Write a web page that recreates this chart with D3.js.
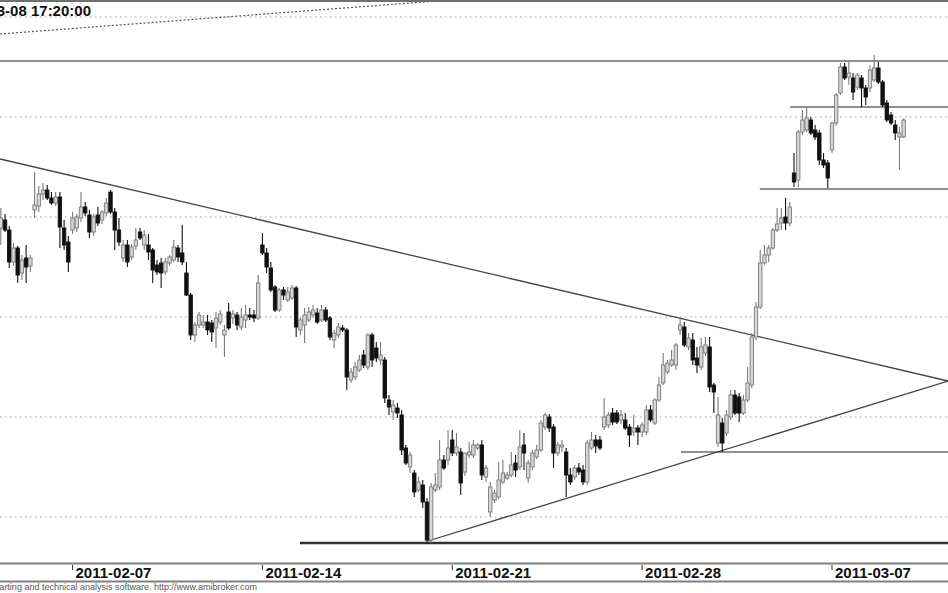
<!DOCTYPE html>
<html><head><meta charset="utf-8">
<script src="https://cdn.jsdelivr.net/npm/d3@7"></script>
<style>body{margin:0;background:#fff}svg{display:block}</style>
</head><body>
<svg id="c" width="948" height="593"></svg>
<script>
// ---- data ----
const days = ["2011-02-03","2011-02-04","2011-02-07","2011-02-08","2011-02-09","2011-02-10","2011-02-11",
  "2011-02-14","2011-02-15","2011-02-16","2011-02-17","2011-02-18","2011-02-21","2011-02-22","2011-02-23",
  "2011-02-24","2011-02-25","2011-02-28","2011-03-01","2011-03-02","2011-03-03","2011-03-04","2011-03-07","2011-03-08"];
const hours = ["09:00","10:00","11:00","12:00","13:00","14:00","15:00","16:00","17:00"];
const tickLabels = ["2011-02-07","2011-02-14","2011-02-21","2011-02-28","2011-03-07"];
const titleText = "2011-03-08 17:20:00";
const footerText = "AmiBroker - charting and technical analysis software. http://www.amibroker.com";

const open = [2823.5,2844.5,2848.5,2843.5,2827.5,2834.5,2822,2829.5,2825.5,
2853.5,2855.5,2861.5,2863.5,2859.5,2857,2860,2844.5,2837.5,
2843.5,2844.5,2849.5,2855,2851,2842.5,2851,2848.5,2852,
2862.5,2852.5,2843.5,2829.5,2836,2830,2835.5,2842.5,2836,
2836,2833.5,2826,2827,2822.5,2827,2828.5,2834.5,2832,
2822,2811,2791,2796,2796,2797.5,2797,2794.5,2797.5,
2791,2802.5,2799.5,2801,2795,2798.5,2801,2801,2799.5,
2836,2832,2824.5,2815,2803.5,2813.5,2808.5,2809.5,2814.5,
2793.5,2796,2798.5,2801,2802,2798.5,2803.5,2799.5,2788.5,
2791,2794.5,2793.5,2768.5,2770,2773.5,2781,2775,2791,
2784.5,2778.5,2778.5,2758.5,2752.5,2754.5,2751,2734.5,2725,
2722,2713.5,2716,2707.5,2688.5,2713.5,2715,2728.5,2728.5,
2738.5,2732,2732.5,2722.5,2731,2731,2734.5,2736,2720,
2702.5,2708.5,2710,2717.5,2719.5,2721,2727,2725,2736,
2719.5,2725,2730,2733.5,2745,2750,2745,2732,2735,
2732.5,2721,2720,2724.5,2723.5,2717.5,2734.5,2738.5,2738.5,
2745,2746,2752,2752,2748.5,2748.5,2745,2742.5,2744.5,
2742.5,2742.5,2753.5,2747,2758.5,2767,2772.5,2776,2776,
2793.5,2795,2785,2788.5,2779.5,2775,2782,2785,2766,
2737,2747,2742,2750,2761,2760,2752,2758.5,2766,
2790,2805,2827,2831,2834.5,2843.5,2847,2850,2847,
2872,2868.5,2892.5,2893.5,2898.5,2893.5,2892,2878.5,2877,
2883.5,2897,2912,2925,2920,2919.5,2915,2919.5,2914.5,
2914.5,2918.5,2924.5,2917.5,2907,2901,2896,2890,2890];

const high = [2852.5,2854.5,2851.5,2845.5,2837,2835.5,2831,2836,2831,
2872.5,2865.5,2867,2866,2862.5,2862.5,2862.5,2848.5,2840.5,
2852.5,2851.5,2862.5,2857.5,2853.5,2851.5,2855,2853.5,2859.5,
2863.5,2854.5,2849.5,2838.5,2838.5,2836.5,2844.5,2844.5,2843.5,
2841.5,2834.5,2828.5,2829.5,2829.5,2831,2838.5,2836,2846,
2827.5,2812,2797.5,2802.5,2801,2801,2798.5,2802.5,2803.5,
2796,2807,2803.5,2802.5,2804.5,2806,2804.5,2803.5,2821,
2842,2834.5,2827.5,2816,2814.5,2815,2815,2816,2815.5,
2799.5,2804.5,2805,2806,2804.5,2806,2805,2800.5,2793.5,
2797,2796,2794.5,2774.5,2777.5,2781,2783.5,2792,2792,
2787.5,2787.5,2780,2761,2758.5,2757,2753.5,2736,2732.5,
2723.5,2720,2718.5,2709.5,2717,2722,2738.5,2731,2743.5,
2743.5,2742,2734.5,2731,2737.5,2738.5,2737,2738.5,2726,
2717.5,2713.5,2727.5,2728.5,2722.5,2732.5,2731,2743.5,2742,
2728.5,2733.5,2736,2748.5,2752,2751.5,2746.5,2737.5,2738.5,
2734.5,2724.5,2726,2727,2726,2738.5,2742.5,2741,2740.5,
2759.5,2752.5,2754.5,2753.5,2753.5,2752,2746.5,2751,2746,
2747.5,2756,2756,2759.5,2770,2782,2778.5,2783.5,2787,
2799.5,2797.5,2792,2792,2785,2789.5,2790,2790,2767,
2760,2749.5,2753.5,2763.5,2763.5,2762,2761,2775,2792,
2807.5,2833.5,2836,2836,2844.5,2854.5,2854.5,2859.5,2857.5,
2882,2893.5,2903.5,2904.5,2900,2896,2893.5,2882,2878.5,
2897.5,2912,2927,2927,2927.5,2922,2922,2921,2916,
2926,2931,2927.5,2918.5,2908.5,2902.5,2898.5,2895,2899.5];

const low = [2817.5,2836,2842.5,2824.5,2825.5,2817,2818.5,2817,2822.5,
2849.5,2852.5,2858.5,2858.5,2856,2855.5,2834.5,2833.5,2822.5,
2841.5,2842.5,2847.5,2850.5,2839.5,2840.5,2845.5,2846.5,2850.5,
2851.5,2833.5,2835.5,2827.5,2825,2828.5,2833.5,2838.5,2833.5,
2828.5,2817,2821,2814.5,2821,2825.5,2827.5,2827.5,2826,
2810.5,2788.5,2787.5,2794.5,2794.5,2791,2787.5,2784.5,2796,
2780,2793.5,2796.5,2793.5,2793.5,2794.5,2798.5,2797.5,2798.5,
2831,2822,2812.5,2802.5,2802.5,2808.5,2807.5,2808.5,2790,
2791,2787,2797.5,2799.5,2796.5,2797.5,2797.5,2788.5,2784.5,
2789.5,2792.5,2763.5,2767,2768.5,2772.5,2774.5,2773.5,2775,
2777.5,2776,2757,2751,2748.5,2749.5,2731,2726,2722,
2710,2712.5,2704.5,2687,2687,2712.5,2713.5,2723.5,2726,
2730.5,2730.5,2711,2720.5,2729.5,2729.5,2733.5,2718.5,2717.5,
2700,2707,2709,2716.5,2718.5,2720,2720,2723.5,2723.5,
2717,2723.5,2729,2732.5,2743.5,2742.5,2724.5,2730.5,2732.5,
2710,2716,2718.5,2721,2716,2716,2733.5,2732,2733.5,
2743.5,2744.5,2746,2746.5,2746.5,2743.5,2735,2740.5,2736,
2740,2741,2747.5,2746,2757.5,2766,2771.5,2775,2773.5,
2791,2785,2783.5,2776,2772,2773.5,2780.5,2762.5,2752,
2735,2732.5,2740.5,2748.5,2751,2747.5,2751,2757.5,2764.5,
2788.5,2804,2826,2827.5,2833.5,2842.5,2843.5,2843.5,2845.5,
2865,2865,2891,2892.5,2891,2888.5,2876,2874.5,2864.5,
2882,2895.5,2911,2918.5,2916,2908.5,2913.5,2905,2906,
2912.5,2917.5,2916.5,2905,2897.5,2896,2888.5,2873.5,2889.5];

const close = [2846,2849.5,2843.5,2827.5,2834.5,2821,2828.5,2825,2829.5,
2856,2861.5,2863.5,2859.5,2857,2860,2845,2836,2827.5,
2849.5,2850,2855,2852,2842.5,2850,2847,2852.5,2857,
2852.5,2843.5,2837.5,2836,2827.5,2835,2838.5,2839.5,2841,
2832.5,2823.5,2822.5,2822,2827.5,2830,2835,2830,2827.5,
2811,2791,2796,2801,2797.5,2793.5,2792.5,2799.5,2801.5,
2793.5,2794.5,2801.5,2796,2800,2801,2800,2799.5,2817,
2832,2825,2813.5,2803.5,2813.5,2811,2812.5,2814.5,2795,
2798.5,2801,2802.5,2803.5,2797.5,2803.5,2798.5,2790,2792,
2795,2793.5,2770,2772.5,2775,2778.5,2776,2791,2778.5,
2779.5,2781,2759.5,2755,2756,2752,2733.5,2727,2731,
2712.5,2717.5,2707.5,2688.5,2715,2716,2728.5,2724.5,2734.5,
2732,2735,2717,2732,2732.5,2736,2736,2721,2724.5,
2715,2712,2718.5,2722,2721,2726,2723.5,2735,2732,
2727,2732,2733.5,2747,2751,2744.5,2732,2736,2736,
2721,2717.5,2724.5,2722.5,2717.5,2737,2738.5,2735.5,2734.5,
2750,2751,2747.5,2747.5,2751,2744.5,2741,2744.5,2742.5,
2746,2753.5,2748.5,2758.5,2766,2776,2777,2778.5,2786,
2796,2786,2789.5,2778.5,2776,2785,2786,2765,2762.5,
2751,2737,2751,2761,2752,2752,2758.5,2767,2790,
2805,2827,2831,2834.5,2843.5,2846.5,2849.5,2847,2855,
2867.5,2892.5,2898.5,2899.5,2892,2890,2878.5,2876,2869.5,
2897,2911,2925,2919.5,2922,2912.5,2921,2914.5,2910,
2923.5,2924.5,2917.5,2906,2898.5,2897,2892,2892,2898.5];

// drawn study lines (bar index / price)
const levelPrices = [2928, 2905, 2864, 2732.5, 2687];
const levelStartBar = [-2, 188.1, 180.9, 162.2, 71.9];
const trendDown = [[0.8, 2879], [225.5, 2768]];
const trendUp = [[102.25, 2688], [225.5, 2768]];
const trendDotted = [[0.8, 2941.5], [107.5, 2958.5]];
const gridLevels = [2700, 2750, 2800, 2850, 2900, 2950];

// ---- chart ----
const W = 948, H = 593;
const svg = d3.select("#c");
const n = open.length;
const x = d3.scaleLinear().domain([0, n - 1]).range([-3.4, 903.7]);
const y = d3.scaleLinear().domain([2700, 2950]).range([517, 17]);
const plotTop = 2, plotBottom = 562;
const font = "'Liberation Sans', Arial, Helvetica, sans-serif";

svg.append("defs").append("clipPath").attr("id", "clip")
  .append("rect").attr("x", 0).attr("y", plotTop).attr("width", W).attr("height", plotBottom - plotTop);

const bars = d3.range(n).map(i => ({
  i, day: days[Math.floor(i / 9)], hour: hours[i % 9],
  o: open[i], h: high[i], l: low[i], c: close[i]
}));

const plot = svg.append("g").attr("clip-path", "url(#clip)");

// grid
plot.selectAll("line.grid").data(gridLevels).join("line")
  .attr("x1", 0).attr("x2", W).attr("y1", d => y(d)).attr("y2", d => y(d))
  .attr("stroke", "#a0a0a0").attr("stroke-width", 1).attr("stroke-dasharray", "1.5,3.5");

// dotted trend at top
plot.append("line")
  .attr("x1", x(trendDotted[0][0])).attr("y1", y(trendDotted[0][1]))
  .attr("x2", x(trendDotted[1][0])).attr("y2", y(trendDotted[1][1]))
  .attr("stroke", "#555").attr("stroke-width", 1.2).attr("stroke-dasharray", "2,2");

// horizontal levels
plot.selectAll("line.lvl").data(levelPrices).join("line")
  .attr("x1", (d, k) => x(levelStartBar[k])).attr("x2", W)
  .attr("y1", d => y(d)).attr("y2", d => y(d))
  .attr("stroke", (d, k) => k === 4 ? "#333" : "#6a6a6a")
  .attr("stroke-width", (d, k) => k === 4 ? 2.6 : 1.6);

// trend lines
[trendDown, trendUp].forEach(t => {
  plot.append("line")
    .attr("x1", x(t[0][0])).attr("y1", y(t[0][1]))
    .attr("x2", x(t[1][0])).attr("y2", y(t[1][1]))
    .attr("stroke", "#444").attr("stroke-width", 1.3);
});

// candles
const up = d => d.c >= d.o;
const g = plot.append("g");
g.selectAll("line.wick").data(bars).join("line")
  .attr("x1", d => x(d.i)).attr("x2", d => x(d.i))
  .attr("y1", d => y(d.h)).attr("y2", d => y(d.l))
  .attr("stroke", d => up(d) ? "#7a7a7a" : "#111").attr("stroke-width", 1.1);
g.selectAll("rect.body").data(bars).join("rect")
  .attr("x", d => x(d.i) - 1.7).attr("width", 3.4)
  .attr("y", d => Math.min(y(d.o), y(d.c)))
  .attr("height", d => Math.max(1, Math.abs(y(d.o) - y(d.c))))
  .attr("fill", d => up(d) ? "#d6d6d6" : "#111")
  .attr("stroke", d => up(d) ? "#7a7a7a" : "#111").attr("stroke-width", 0.9);

// frame
svg.append("line").attr("x1", 0).attr("x2", W).attr("y1", 1).attr("y2", 1)
  .attr("stroke", "#707070").attr("stroke-width", 2);
svg.append("line").attr("x1", 0).attr("x2", W).attr("y1", 563.5).attr("y2", 563.5)
  .attr("stroke", "#808080").attr("stroke-width", 2);
svg.append("line").attr("x1", 0).attr("x2", W).attr("y1", 581.5).attr("y2", 581.5)
  .attr("stroke", "#808080").attr("stroke-width", 2);

// title
svg.append("text").attr("x", 91).attr("y", 16).attr("text-anchor", "end")
  .attr("font-family", font).attr("font-weight", "bold").attr("font-size", 15)
  .attr("fill", "#111").text(titleText);

// x axis ticks
const ticks = tickLabels.map(l => ({ label: l, i: days.indexOf(l) * 9 }));
const tg = svg.append("g");
tg.selectAll("line").data(ticks).join("line")
  .attr("x1", d => x(d.i)).attr("x2", d => x(d.i)).attr("y1", 565).attr("y2", 570)
  .attr("stroke", "#333").attr("stroke-width", 1);
tg.selectAll("text").data(ticks).join("text")
  .attr("x", d => x(d.i) + 3).attr("y", 577.5)
  .attr("font-family", font).attr("font-weight", "bold").attr("font-size", 15)
  .attr("fill", "#111").text(d => d.label);

// footer
svg.append("text").attr("x", 257).attr("y", 590).attr("text-anchor", "end")
  .attr("font-family", font).attr("font-size", 9).attr("fill", "#555").text(footerText);
</script>
</body></html>
